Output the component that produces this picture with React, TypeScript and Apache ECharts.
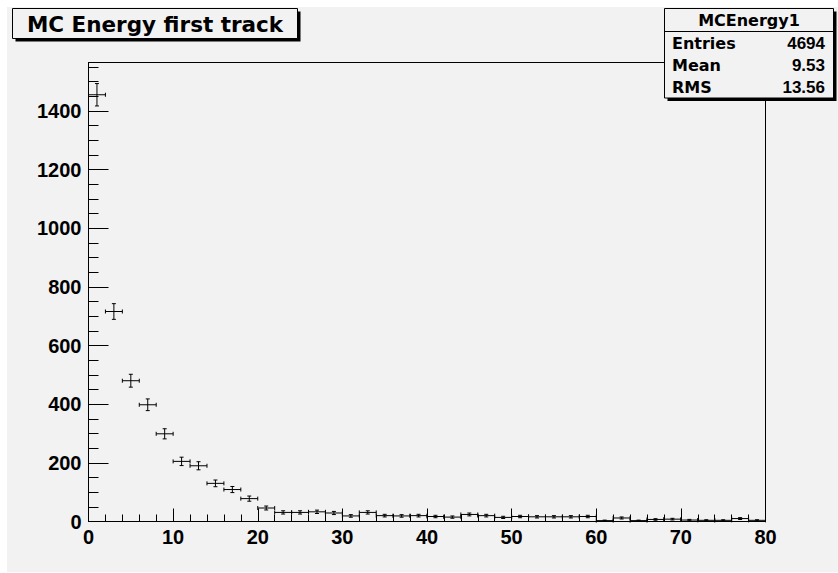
import React, { useEffect, useRef } from "react";
import * as echarts from "echarts";

const titleText = "MC Energy first track";
const histName = "MCEnergy1";
const statsLabels = ["Entries", "Mean", "RMS"];
const statsValues = ["4694", "9.53", "13.56"];

const binCenters = [
  1, 3, 5, 7, 9, 11, 13, 15, 17, 19, 21, 23, 25, 27, 29, 31, 33, 35, 37, 39,
  41, 43, 45, 47, 49, 51, 53, 55, 57, 59, 61, 63, 65, 67, 69, 71, 73, 75, 77, 79,
];
const counts = [
  1455, 716, 480, 398, 299, 205, 190, 130, 109, 78, 46, 31, 31, 33, 29, 19, 31, 20, 19, 20,
  17, 15, 24, 20, 14, 17, 16, 16, 16, 17, 3, 12, 3, 7, 8, 5, 4, 4, 10, 4,
];
const binHalfWidth = 1;
const xMin = 0;
const xMax = 80;
const xInterval = 10;
const yMin = 0;
const yMax = 1565;
const yMajorTicks = [0, 200, 400, 600, 800, 1000, 1200, 1400];
const yMinorTicks = [
  0, 50, 100, 150, 200, 250, 300, 350, 400, 450, 500, 550, 600, 650, 700, 750, 800,
  850, 900, 950, 1000, 1050, 1100, 1150, 1200, 1250, 1300, 1350, 1400, 1450, 1500, 1550,
];

const NUM_FONT = '"Liberation Sans", Arial, Helvetica, sans-serif';
const TXT_FONT = '"DejaVu Sans", "Liberation Sans", sans-serif';
const BG = "#f2f2f2";

export default function App() {
  const ref = useRef<HTMLDivElement>(null);
  useEffect(() => {
    document.body.style.margin = "0";
    const chart = echarts.init(ref.current!, null, { renderer: "svg" });

    const seg = (x1: number, y1: number, x2: number, y2: number) => ({
      type: "line",
      shape: { x1, y1, x2, y2 },
      style: { stroke: "#000", lineWidth: 1 },
    });

    const renderItem = (params: any, api: any) => {
      const xc = api.value(0);
      const v = api.value(1);
      const e = Math.sqrt(v);
      const pL = api.coord([xc - binHalfWidth, v]);
      const pR = api.coord([xc + binHalfWidth, v]);
      const pT = api.coord([xc, v + e]);
      const pB = api.coord([xc, Math.max(v - e, 0)]);
      const c = 2;
      return {
        type: "group",
        children: [
          seg(pL[0], pL[1], pR[0], pR[1]),
          seg(pL[0], pL[1] - c, pL[0], pL[1] + c),
          seg(pR[0], pR[1] - c, pR[0], pR[1] + c),
          seg(pT[0], pT[1], pB[0], pB[1]),
          seg(pT[0] - c, pT[1], pT[0] + c, pT[1]),
          seg(pB[0] - c, pB[1], pB[0] + c, pB[1]),
        ],
      };
    };

    const text = (t: string, x: number, y: number, align: string, size: number, family: string) => ({
      type: "text",
      x,
      y,
      z: 110,
      style: {
        text: t,
        fill: "#000",
        fontFamily: family,
        fontWeight: "bold",
        fontSize: size,
        textAlign: align,
        textVerticalAlign: "middle",
      },
    });

    const statsTop = 8.5;
    const rowY = [43, 65, 87];

    const option: any = {
      animation: false,
      backgroundColor: BG,
      grid: {
        show: true,
        left: 88.5,
        top: 62.5,
        right: 72.5,
        bottom: 51.5,
        borderColor: "#000",
        borderWidth: 1,
        backgroundColor: "transparent",
        containLabel: false,
      },
      xAxis: {
        type: "value",
        min: xMin,
        max: xMax,
        interval: xInterval,
        axisLine: { show: true, onZero: false, lineStyle: { color: "#000", width: 1 } },
        axisTick: { show: true, inside: true, length: 13, lineStyle: { color: "#000" } },
        minorTick: { show: true, splitNumber: 5, length: 7, lineStyle: { color: "#000" } },
        axisLabel: {
          color: "#000",
          fontFamily: NUM_FONT,
          fontWeight: "bold",
          fontSize: 20,
          margin: 5,
          formatter: (v: number) => String(v),
        },
        splitLine: { show: false },
        minorSplitLine: { show: false },
      },
      yAxis: [
        {
          type: "value",
          min: yMin,
          max: yMax,
          position: "left",
          axisLine: { show: true, lineStyle: { color: "#000", width: 1 } },
          axisTick: {
            show: true,
            inside: true,
            length: 20,
            customValues: yMajorTicks,
            lineStyle: { color: "#000" },
          },
          axisLabel: {
            customValues: yMajorTicks,
            color: "#000",
            fontFamily: NUM_FONT,
            fontWeight: "bold",
            fontSize: 20,
            margin: 7,
            formatter: (v: number) => String(v),
          },
          splitLine: { show: false },
        },
        {
          type: "value",
          min: yMin,
          max: yMax,
          position: "left",
          offset: 0,
          axisLine: { show: false },
          axisTick: {
            show: true,
            inside: true,
            length: 10,
            customValues: yMinorTicks,
            lineStyle: { color: "#000" },
          },
          axisLabel: { show: false },
          splitLine: { show: false },
        },
      ],
      series: [
        {
          type: "custom",
          coordinateSystem: "cartesian2d",
          xAxisIndex: 0,
          yAxisIndex: 0,
          data: binCenters.map((c, i) => [c, counts[i]]),
          renderItem,
          z: 5,
        },
      ],
      graphic: {
        elements: [
          { type: "rect", z: 100, shape: { x: 0, y: 0, width: 838, height: 7 }, style: { fill: "#fff" } },
          { type: "rect", z: 100, shape: { x: 0, y: 0, width: 7, height: 573 }, style: { fill: "#fff" } },
          { type: "rect", z: 100, shape: { x: 0, y: 572, width: 838, height: 1 }, style: { fill: "#fff" } },
          // title box
          { type: "rect", z: 101, shape: { x: 15.5, y: 11.5, width: 285, height: 30 }, style: { fill: "#000" } },
          { type: "rect", z: 102, shape: { x: 12.5, y: 8.5, width: 285, height: 30 }, style: { fill: BG, stroke: "#000", lineWidth: 1 } },
          text(titleText, 155, 24, "center", 21.5, TXT_FONT),
          // stats box
          { type: "rect", z: 101, shape: { x: 667.5, y: statsTop + 3, width: 169, height: 89.5 }, style: { fill: "#000" } },
          { type: "rect", z: 102, shape: { x: 664.5, y: statsTop, width: 169, height: 89.5 }, style: { fill: BG, stroke: "#000", lineWidth: 1 } },
          { type: "line", z: 103, shape: { x1: 664.5, y1: 31.5, x2: 833.5, y2: 31.5 }, style: { stroke: "#000", lineWidth: 1 } },
          text(histName, 749, 20.5, "center", 16, TXT_FONT),
          ...statsLabels.map((l, i) => text(l, 672, rowY[i], "left", 16, TXT_FONT)),
          ...statsValues.map((v, i) => text(v, 825, rowY[i], "right", 17, NUM_FONT)),
        ],
      },
    };

    chart.setOption(option);
    return () => chart.dispose();
  }, []);
  return <div ref={ref} style={{ width: 838, height: 573 }} />;
}
